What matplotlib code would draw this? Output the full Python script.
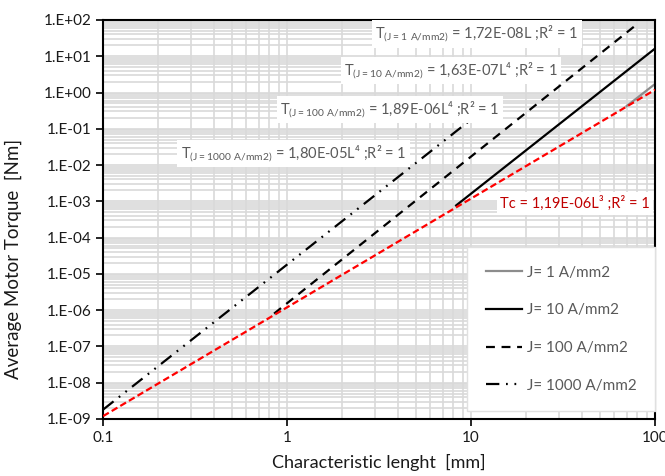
import matplotlib
matplotlib.use('Agg')
import matplotlib.pyplot as plt
from matplotlib.ticker import FixedLocator, FuncFormatter, LogLocator, NullFormatter
import numpy as np

plt.rcParams['font.family'] = ['Lato', 'DejaVu Sans']
plt.rcParams['mathtext.fontset'] = 'custom'
plt.rcParams['mathtext.rm'] = 'Lato'

# line end points (log-log straight lines)
L_tc = [0.1, 100]
T_tc = [1.19e-9, 1.19]
L_j1 = [70, 100]
T_j1 = [0.42, 1.72]
L_j10 = [8.3, 100]
T_j10 = [7.7e-4, 16.3]
L_j100 = [0.85, 81]
T_j100 = [8.0e-7, 81]
L_j1000 = [0.1, 10]
T_j1000 = [1.8e-9, 0.18]

series_labels = ['J= 1 A/mm2', 'J= 10 A/mm2', 'J= 100 A/mm2', 'J= 1000 A/mm2']
fit_texts = [
    r'T$_{\mathregular{(J=1\ A/mm2)}}$ = 1,72E-08L ;R² = 1',
    r'T$_{\mathregular{(J=10\ A/mm2)}}$ = 1,63E-07L⁴ ;R² = 1',
    r'T$_{\mathregular{(J=100\ A/mm2)}}$ = 1,89E-06L⁴ ;R² = 1',
    r'T$_{\mathregular{(J=1000\ A/mm2)}}$ = 1,80E-05L⁴ ;R² = 1',
]
tc_text = 'Tc = 1,19E-06L³ ;R² = 1'

fig = plt.figure(figsize=(6.65, 4.76), dpi=100)
ax = fig.add_axes([0.155, 0.12, 0.83, 0.838])

ax.set_xscale('log')
ax.set_yscale('log')
ax.set_xlim(0.1, 100)
ax.set_ylim(1e-9, 1e2)

ax.plot(L_j1, T_j1, color='#8c8c8c', lw=1.6, label=series_labels[0])
ax.plot(L_j10, T_j10, color='black', lw=1.6, label=series_labels[1])
ax.plot(L_j100, T_j100, color='black', lw=1.6, dashes=(4, 3), label=series_labels[2])
ax.plot(L_j1000, T_j1000, color='black', lw=1.6, dashes=(6, 3, 0.8, 3, 0.8, 3), label=series_labels[3])
ax.plot(L_tc, T_tc, color='#ff0000', lw=1.6, dashes=(3, 1.5), zorder=3)

# grid
ax.xaxis.set_major_locator(FixedLocator([0.1, 1, 10, 100]))
ax.xaxis.set_major_formatter(FuncFormatter(lambda v, p: '%g' % v))
ax.xaxis.set_minor_locator(LogLocator(base=10, subs=np.arange(2, 10)))
ax.xaxis.set_minor_formatter(NullFormatter())
ax.yaxis.set_major_locator(FixedLocator([10.0 ** e for e in range(-9, 3)]))
ax.yaxis.set_major_formatter(FuncFormatter(lambda v, p: '1.E%+03d' % round(np.log10(v))))
ax.yaxis.set_minor_locator(LogLocator(base=10, subs=np.arange(2, 10), numticks=20))
ax.yaxis.set_minor_formatter(NullFormatter())
ax.grid(True, which='both', color='#d9d9d9', lw=1.2)
ax.set_axisbelow(True)
ax.tick_params(which='minor', length=0)
ax.tick_params(which='major', length=5, width=1.2, color='black', labelsize=11, labelcolor='#1a1a1a')
for s in ax.spines.values():
    s.set_color('black')
    s.set_linewidth(1.5)

ax.set_xlabel('Characteristic lenght  [mm]', fontsize=13, color='#1a1a1a', labelpad=7)
ax.set_ylabel('Average Motor Torque  [Nm]', fontsize=13.5, color='#1a1a1a')
ax.yaxis.set_label_coords(-0.147, 0.40)

box = dict(facecolor='white', edgecolor='none', pad=2.5)
fit_pos = [(0.677, 0.965), (0.63, 0.873), (0.52, 0.775), (0.345, 0.665)]
for (x, y), t in zip(fit_pos, fit_texts):
    ax.text(x, y, t, transform=ax.transAxes, ha='center', va='center',
            fontsize=10.5, color='#595959', bbox=box, zorder=5)
ax.text(0.855, 0.540, tc_text, transform=ax.transAxes, ha='center', va='center',
        fontsize=10.5, color='#c00000', bbox=box, zorder=5)

leg = ax.legend(loc='lower right', bbox_to_anchor=(1.0, 0.02, 0.0, 0.0), fontsize=11,
                frameon=True, fancybox=False, handlelength=2.4, handletextpad=0.3,
                labelspacing=1.55, borderpad=1.2, borderaxespad=0.0)
leg.get_frame().set_edgecolor('#e0e0e0')
leg.get_frame().set_alpha(1)
for t in leg.get_texts():
    t.set_color('#595959')
leg.set_zorder(6)

fig.savefig('out.png', dpi=100)
